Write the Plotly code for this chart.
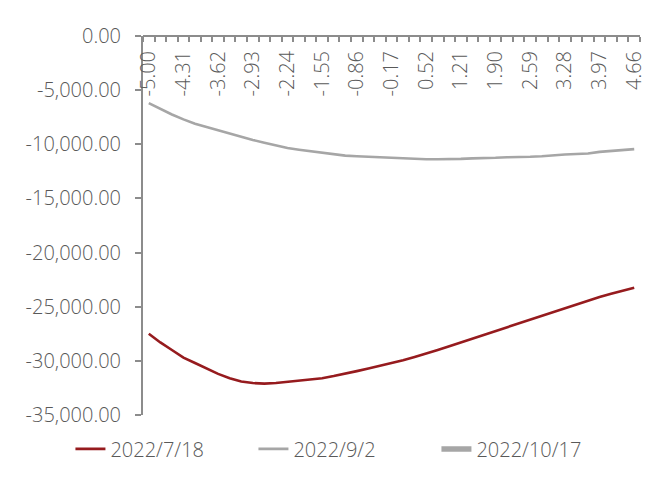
import plotly.graph_objects as go

# x categories (shift values) as shown on the top axis
x_vals = [-5.00, -4.77, -4.54, -4.31, -4.08, -3.85, -3.62, -3.39, -3.16, -2.93,
          -2.70, -2.47, -2.24, -2.01, -1.78, -1.55, -1.32, -1.09, -0.86, -0.63,
          -0.40, -0.17, 0.06, 0.29, 0.52, 0.75, 0.98, 1.21, 1.44, 1.67,
          1.90, 2.13, 2.36, 2.59, 2.82, 3.05, 3.28, 3.51, 3.74, 3.97,
          4.20, 4.43, 4.66]

s_0718 = [-27500, -28300, -29000, -29700, -30200, -30700, -31200, -31600, -31900, -32050,
          -32100, -32050, -31950, -31850, -31750, -31600, -31400, -31200, -30950, -30700,
          -30450, -30250, -29950, -29650, -29350, -29000, -28650, -28300, -27950, -27550,
          -27200, -26850, -26500, -26150, -25850, -25500, -25150, -24800, -24450, -24100,
          -23800, -23500, -23250]

s_0902 = [-6200, -6750, -7250, -7700, -8100, -8400, -8700, -9050, -9350, -9600,
          -9850, -10100, -10350, -10500, -10650, -10800, -10950, -11050, -11100, -11150,
          -11200, -11250, -11300, -11350, -11380, -11380, -11380, -11350, -11300, -11300,
          -11250, -11200, -11200, -11150, -11100, -11000, -10950, -10900, -10850, -10700,
          -10600, -10550, -10450]

s_1017 = [None] * len(x_vals)  # no visible values in the chart

x_tick_vals = x_vals[::3]
x_tick_text = [f"{v:.2f}" for v in x_tick_vals]
y_tick_vals = [0, -5000, -10000, -15000, -20000, -25000, -30000, -35000]
y_tick_text = ["0.00", "-5,000.00", "-10,000.00", "-15,000.00", "-20,000.00",
               "-25,000.00", "-30,000.00", "-35,000.00"]

AXIS = "#8C8C8C"
TXT = "#595959"
FONT = "Open Sans, Noto Sans, sans-serif"

fig = go.Figure()
fig.add_trace(go.Scatter(x=x_vals, y=s_0718, mode="lines", name="2022/7/18",
                         line=dict(color="#961B1E", width=2.6)))
fig.add_trace(go.Scatter(x=x_vals, y=s_0902, mode="lines", name="2022/9/2",
                         line=dict(color="#A6A6A6", width=2.6)))
fig.add_trace(go.Scatter(x=x_vals, y=s_1017, mode="lines", name="2022/10/17",
                         line=dict(color="#A6A6A6", width=5.5)))

fig.update_layout(
    width=667, height=484,
    margin=dict(l=143, r=27, t=36, b=69),
    paper_bgcolor="white", plot_bgcolor="white",
    font=dict(family=FONT, color=TXT, weight=300),
    showlegend=True,
    legend=dict(orientation="h", x=-0.146, xanchor="left", y=-0.038, yanchor="top",
                font=dict(size=20, color=TXT, weight=300),
                entrywidth=138, traceorder="normal"),
    # category axis sits on the zero line at the top, labels hang below it
    xaxis=dict(
        anchor="free", position=1.0, side="bottom",
        range=[-5.115, 4.775], automargin=False,
        tickvals=x_tick_vals, ticktext=x_tick_text, tickangle=-90,
        ticks="", ticklabelstandoff=6,
        tickfont=dict(size=20, color=TXT, weight=300),
        minor=dict(ticks="outside", tick0=-5.115, dtick=0.23, ticklen=5,
                   tickcolor=AXIS, tickwidth=1.5, showgrid=False),
        showline=True, linecolor=AXIS, linewidth=2,
        showgrid=False, zeroline=False,
    ),
    yaxis=dict(
        range=[-35000, 0], tickvals=y_tick_vals, ticktext=y_tick_text,
        automargin=False,
        ticks="outside", ticklen=6, tickcolor=AXIS, tickwidth=1.5,
        ticklabelstandoff=10, tickfont=dict(size=20, color=TXT, weight=300),
        showline=True, linecolor=AXIS, linewidth=2,
        showgrid=False, zeroline=False,
    ),
)

fig.write_html("out.html", config={"displayModeBar": False},
               post_script="document.body.style.margin='0px';")
